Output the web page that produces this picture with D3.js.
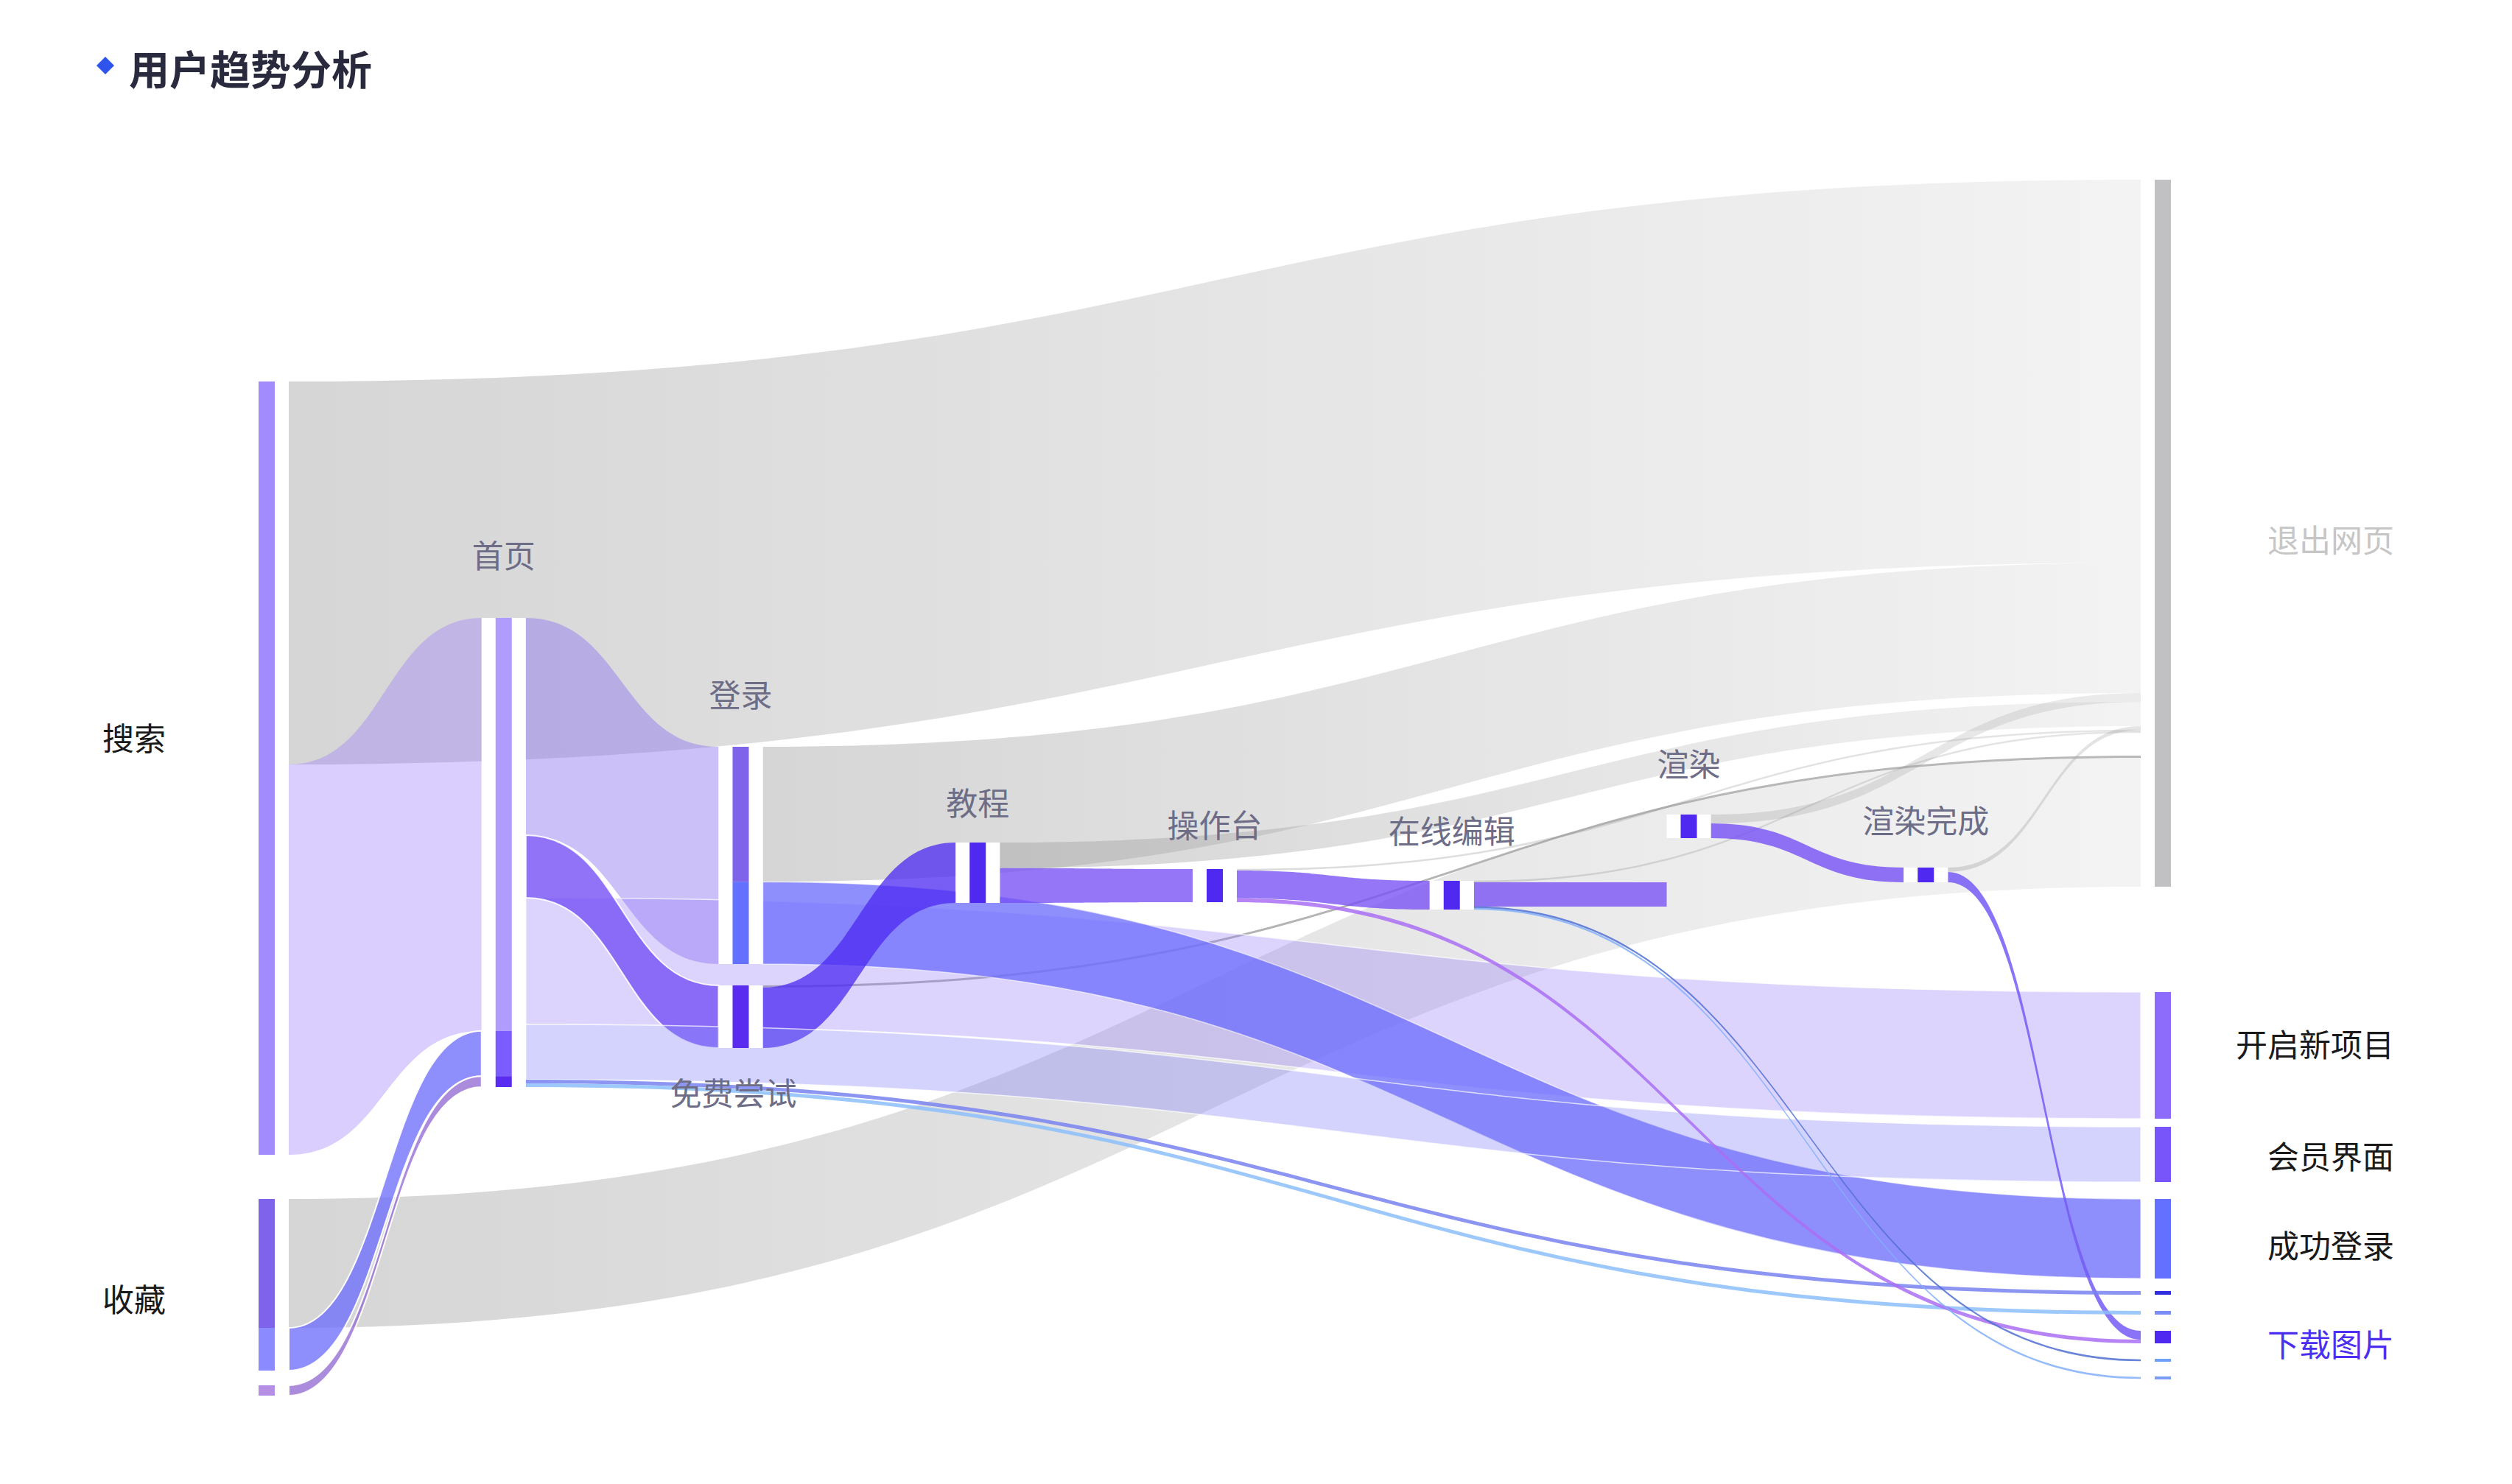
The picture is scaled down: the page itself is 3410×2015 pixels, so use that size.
<!DOCTYPE html>
<html><head><meta charset="utf-8">
<script src="https://cdn.jsdelivr.net/npm/d3@7"></script>
<style>html,body{margin:0;padding:0;background:#fff;} svg{display:block;}</style>
</head><body>
<svg id="chart" width="3410" height="2015"></svg>
<script>
// ---------------- data ----------------
const nodeNames = ["搜索","收藏","首页","登录","免费尝试","教程","操作台","在线编辑","渲染入口","渲染","渲染完成","退出网页","开启新项目","会员界面","成功登录","下载图片"];
const linkSources = ["搜索","搜索","收藏","收藏","收藏","首页","首页","首页","首页","首页","首页","登录","登录","免费尝试","免费尝试","教程","教程","操作台","操作台","操作台","在线编辑","在线编辑","在线编辑","在线编辑","渲染","渲染","渲染完成","渲染完成"];
const linkTargets = ["退出网页","首页","退出网页","首页","首页","登录","免费尝试","开启新项目","会员界面","下载图片","下载图片","退出网页","成功登录","退出网页","教程","退出网页","操作台","退出网页","在线编辑","下载图片","退出网页","渲染入口","下载图片","下载图片","退出网页","渲染完成","退出网页","下载图片"];
const linkValues = [2600,2650,875,290,70,1475,425,860,375,25,25,885,540,15,410,165,225,10,180,25,10,165,10,10,60,100,25,60];
const titleText = "用户趋势分析";

// ---------------- layout (positions kept apart from data) ----------------
const layoutColumn = {"搜索":0,"收藏":0,"首页":1,"登录":2,"免费尝试":2,"教程":3,"操作台":4,"在线编辑":5,"渲染入口":6,"渲染":6,"渲染完成":7,"退出网页":8,"开启新项目":8,"会员界面":8,"成功登录":8,"下载图片":8};
const layoutOffset = {"搜索":1370,"收藏":6920,"首页":2975,"登录":3850,"免费尝试":5470,"教程":4500,"操作台":4680,"在线编辑":4760,"渲染入口":4770,"渲染":4310,"渲染完成":4670,"退出网页":0,"开启新项目":5515,"会员界面":6430,"成功登录":6920,"下载图片":7545};
const hiddenNodes = new Set(["渲染入口"]);
const srcGap = {4: 20};
const tgtGap = {10: 22, 27: 22, 22: 22, 23: 22, 13: 31};
const NODE_W = 22, GAP = 19;

// ---------------- styles ----------------
const nodeColor = {"搜索":"#a28bfd","收藏":"#7f63ea","首页":"#b09cff","登录":"#7f63ea","免费尝试":"#5a2cf0","教程":"#5029f0","操作台":"#5029f0","在线编辑":"#5029f0","渲染":"#5029f0","渲染完成":"#5029f0","退出网页":"#c1c1c4","开启新项目":"#8e6cfb","会员界面":"#7755fb","成功登录":"#6470ff","下载图片":"#5029f0"};
const segSide = {"收藏":"out","首页":"in","登录":"out","下载图片":"in"};
const srcSegColor = {2:"#7f63ea",3:"#8b8bff",4:"#b58ee6",11:"#7f63ea",12:"#6470ff"};
const tgtSegColor = {1:"#b09cff",3:"#7a5cff",4:"#5a2cf0",9:"#2f2fe0",10:"#7b8cf5",27:"#5029f0",19:"#5029f0",22:"#70a0f8",23:"#7b9cf5"};
const linkColor = ["gray","#9678fa","gray","#6e6efc","#966ed2","#8c73f0","#7650f5","#9678fa","#7878fa","#7882f0","#8cbefa","gray","#6e6efc","grayDark","#4b28f0","gray","#7650f5","grayThin","#7650f5","#aa6ef5","grayThin","#7650f5","#506ed2","#82affa","grayMid","#7650f5","grayThin","#765af5"];
const linkOpacity = [0,0.36,0,0.78,0.8,0.45,0.8,0.32,0.33,0.85,0.85,0,0.78,0,0.75,0,0.78,0,0.78,0.85,0,0.78,0.85,0.85,0,0.8,0,0.85];
const linkStroke = {3:[2,0.95],4:[2,0.95],6:[2,0.9],7:[1.5,0.7],8:[1.5,0.7],12:[1.5,0.6]};
const grayStops = {gray:[0.42,0.12], grayMid:[0.3,0.2], grayThin:[0.36,0.26], grayDark:[0.8,0.7]};
const labelPlace = {"搜索":["left",-43],"收藏":["left",0],"首页":["top",87],"登录":["top",73],"免费尝试":["bottom",59],"教程":["top",56],"操作台":["top",62],"在线编辑":["top",70],"渲染":["top",71],"渲染完成":["top",66],"退出网页":["right",7],"开启新项目":["right",-17],"会员界面":["right",0],"成功登录":["right",7],"下载图片":["right",10]};
const labelColor = {"退出网页":"#c6c6c6","下载图片":"#4c2ef0"};
const FONT = "'Noto Sans CJK SC','Noto Sans',sans-serif";

// ---------------- scales ----------------
const x = d3.scaleLinear().domain([0, 8]).range([351, 2925]);
const y = d3.scaleLinear().domain([0, 8200]).range([244, 1884]);
const w = v => y(v) - y(0);

// ---------------- layout computation ----------------
const nodes = nodeNames.map(name => ({name, col: layoutColumn[name], top: y(layoutOffset[name]), ins: [], outs: []}));
const byName = new Map(nodes.map(n => [n.name, n]));
const links = linkValues.map((v, i) => ({i, source: byName.get(linkSources[i]), target: byName.get(linkTargets[i]), value: v, width: w(v)}));
links.forEach(l => { l.source.outs.push(l); l.target.ins.push(l); });
nodes.forEach(n => {
  n.outs.sort((a, b) => a.target.top - b.target.top || a.i - b.i);
  n.ins.sort((a, b) => a.source.top - b.source.top || a.i - b.i);
  const outW = d3.sum(n.outs, l => l.width), outG = d3.sum(n.outs, l => srcGap[l.i] || 0);
  const inW = d3.sum(n.ins, l => l.width), inG = d3.sum(n.ins, l => tgtGap[l.i] || 0);
  n.height = Math.max(outW + outG, inW + inG);
  n.bottom = n.top + n.height;
  n.x0 = x(n.col); n.x1 = n.x0 + NODE_W;
  const outK = outW ? (n.height - outG) / outW : 1;
  let yy = n.top;
  n.outs.forEach(l => { yy += srcGap[l.i] || 0; l.sy0 = yy; yy += l.width * outK; l.sy1 = yy; });
  const inK = inW ? (n.height - inG) / inW : 1;
  yy = n.top;
  n.ins.forEach(l => { yy += tgtGap[l.i] || 0; l.ty0 = yy; yy += l.width * inK; l.ty1 = yy; });
});

function bandPath(l) {
  const x0 = l.source.x1 + GAP, x1 = l.target.x0 - GAP, xm = (x0 + x1) / 2;
  let s0 = l.sy0, s1 = l.sy1, t0 = l.ty0, t1 = l.ty1;
  const MIN = 2.6;
  if (s1 - s0 < MIN) { const c = (s0 + s1) / 2; s0 = c - MIN / 2; s1 = c + MIN / 2; }
  if (t1 - t0 < MIN) { const c = (t0 + t1) / 2; t0 = c - MIN / 2; t1 = c + MIN / 2; }
  const p = d3.path();
  p.moveTo(x0, s0);
  p.bezierCurveTo(xm, s0, xm, t0, x1, t0);
  p.lineTo(x1, t1);
  p.bezierCurveTo(xm, t1, xm, s1, x0, s1);
  p.closePath();
  return p.toString();
}

// ---------------- drawing ----------------
const svg = d3.select("#chart");
const defs = svg.append("defs");

// title
svg.append("rect").attr("x", 143 - 8.5).attr("y", 89 - 8.5).attr("width", 17).attr("height", 17)
  .attr("transform", "rotate(45,143,89)").attr("fill", "#2f54eb");
svg.append("text").attr("x", 175).attr("y", 91).attr("dominant-baseline", "central")
  .attr("font-family", FONT).attr("font-size", 55).attr("font-weight", 700).attr("fill", "#2a2a3e").text(titleText);

const isGray = l => linkColor[l.i].startsWith("gray");
const grayLinks = links.filter(isGray);
const colorLinks = links.filter(l => !isGray(l)).sort((a, b) => b.width - a.width || a.i - b.i);

grayLinks.forEach(l => {
  const st = grayStops[linkColor[l.i]];
  const g = defs.append("linearGradient").attr("id", "lg" + l.i).attr("gradientUnits", "userSpaceOnUse")
    .attr("x1", l.source.x1 + GAP).attr("x2", l.target.x0 - GAP).attr("y1", 0).attr("y2", 0);
  g.append("stop").attr("offset", 0).attr("stop-color", "#9c9c9c").attr("stop-opacity", st[0]);
  g.append("stop").attr("offset", 1).attr("stop-color", "#9c9c9c").attr("stop-opacity", st[1]);
});

const linkLayer = svg.append("g");
linkLayer.selectAll("path.gray").data(grayLinks).join("path").attr("class", "gray")
  .attr("d", bandPath).attr("fill", l => `url(#lg${l.i})`);
linkLayer.selectAll("path.col").data(colorLinks).join("path").attr("class", "col")
  .attr("d", bandPath).attr("fill", l => linkColor[l.i]).attr("fill-opacity", l => linkOpacity[l.i])
  .attr("stroke", l => linkStroke[l.i] ? "#fff" : "none")
  .attr("stroke-width", l => linkStroke[l.i] ? linkStroke[l.i][0] : 0)
  .attr("stroke-opacity", l => linkStroke[l.i] ? linkStroke[l.i][1] : 0);

const visNodes = nodes.filter(n => !hiddenNodes.has(n.name));
// white gaps around node bars
svg.append("g").selectAll("rect").data(visNodes).join("rect")
  .attr("x", n => n.x0 - GAP).attr("width", NODE_W + 2 * GAP)
  .attr("y", n => n.top).attr("height", n => n.height).attr("fill", "#fff");

// node bars (segmented where required)
const barLayer = svg.append("g");
visNodes.forEach(n => {
  const side = segSide[n.name];
  if (!side) {
    barLayer.append("rect").attr("x", n.x0).attr("width", NODE_W).attr("y", n.top).attr("height", n.height).attr("fill", nodeColor[n.name]);
    return;
  }
  const list = side === "out" ? n.outs : n.ins;
  list.forEach(l => {
    let a = side === "out" ? l.sy0 : l.ty0, b = side === "out" ? l.sy1 : l.ty1;
    if (b - a < 4) { const c = (a + b) / 2; a = c - 2; b = c + 2; }
    const col = (side === "out" ? srcSegColor : tgtSegColor)[l.i] || nodeColor[n.name];
    barLayer.append("rect").attr("x", n.x0).attr("width", NODE_W).attr("y", a).attr("height", b - a).attr("fill", col);
  });
});

// labels
const labelLayer = svg.append("g").attr("font-family", FONT).attr("font-size", 43);
visNodes.forEach(n => {
  const [pos, d] = labelPlace[n.name];
  const t = labelLayer.append("text").attr("dominant-baseline", "central").text(n.name);
  const cx = (n.x0 + n.x1) / 2, cy = (n.top + n.bottom) / 2;
  if (pos === "left") t.attr("x", 139).attr("y", cy + d).attr("text-anchor", "start").attr("fill", labelColor[n.name] || "#1a1a1a");
  else if (pos === "right") t.attr("x", 3250).attr("y", cy + d).attr("text-anchor", "end").attr("fill", labelColor[n.name] || "#1a1a1a");
  else if (pos === "top") t.attr("x", cx).attr("y", n.top - d).attr("text-anchor", "middle").attr("fill", "#6d6d88");
  else t.attr("x", cx - 10).attr("y", n.bottom + d).attr("text-anchor", "middle").attr("fill", "#6d6d88");
});
</script>
</body></html>
